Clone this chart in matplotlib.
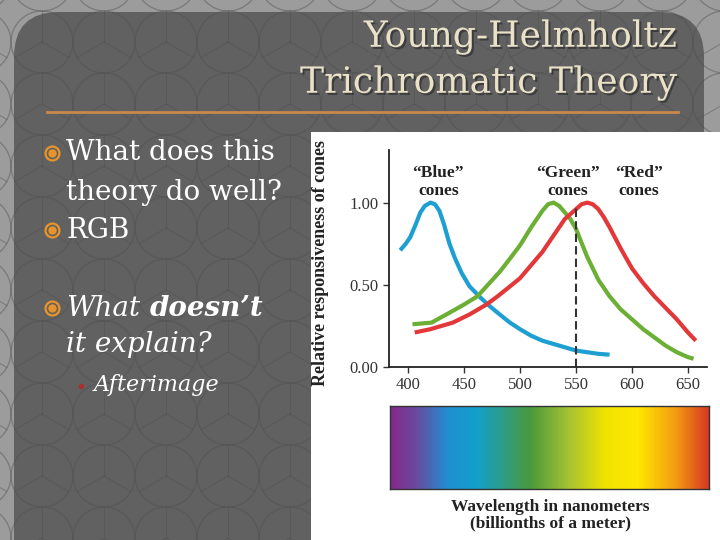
import matplotlib
matplotlib.use('Agg')
import matplotlib.pyplot as plt
import matplotlib.patheffects as pe
import numpy as np
from matplotlib.patches import FancyBboxPatch, Rectangle, Circle
from matplotlib.colors import LinearSegmentedColormap

# cone response curves (wavelength nm, relative response)
blue_nm = [393, 398, 402, 407, 411, 415, 420, 424, 428, 432, 437, 442, 448, 455, 465, 473, 480,
           491, 500, 510, 520, 530, 540, 550, 560, 570, 580]
blue_val = [0.71, 0.75, 0.79, 0.87, 0.94, 0.98, 1.00, 0.99, 0.95, 0.87, 0.75, 0.66, 0.57, 0.49, 0.42,
            0.37, 0.33, 0.27, 0.23, 0.19, 0.16, 0.14, 0.12, 0.10, 0.09, 0.08, 0.075]

green_nm = [404, 421, 437, 450, 462, 470, 482, 490, 500, 510, 520, 525, 530, 535, 540, 545, 550,
            560, 570, 580, 590, 600, 610, 620, 630, 640, 650, 655]
green_val = [0.26, 0.27, 0.33, 0.38, 0.43, 0.49, 0.58, 0.65, 0.74, 0.85, 0.95, 0.99, 1.00, 0.98,
             0.94, 0.90, 0.84, 0.67, 0.53, 0.43, 0.35, 0.29, 0.23, 0.18, 0.13, 0.09, 0.06, 0.05]

red_nm = [406, 420, 440, 455, 470, 480, 491, 500, 510, 520, 530, 540, 550, 555, 560, 565, 570,
          575, 580, 590, 600, 610, 620, 630, 640, 650, 657]
red_val = [0.21, 0.23, 0.27, 0.32, 0.38, 0.43, 0.49, 0.54, 0.62, 0.70, 0.80, 0.90, 0.96, 0.99, 1.00,
           0.99, 0.96, 0.91, 0.85, 0.72, 0.60, 0.51, 0.43, 0.36, 0.29, 0.21, 0.16]

x_ticks = [400, 450, 500, 550, 600, 650]
y_ticks = [0.0, 0.5, 1.0]
y_ticklabels = ['0.00', '0.50', '1.00']

cone_labels = ['\u201cBlue\u201d\ncones', '\u201cGreen\u201d\ncones', '\u201cRed\u201d\ncones']

spectrum_stops = [(0.0, '#86288c'), (0.08, '#6a4a9e'), (0.18, '#1f8fd2'), (0.27, '#12a0cc'),
                  (0.44, '#4a9a3c'), (0.56, '#a6c232'), (0.68, '#f2e400'), (0.78, '#ffe800'),
                  (0.90, '#f39a12'), (1.0, '#d83a22')]

fig = plt.figure(figsize=(7.2, 5.4), dpi=100)
fig.patch.set_facecolor('#9c9c9c')

# slide background, pixel coords
bg = fig.add_axes([0, 0, 1, 1])
bg.set_xlim(0, 720)
bg.set_ylim(540, 0)
bg.axis('off')
bg.add_patch(FancyBboxPatch((14, 12), 690, 600, boxstyle='round,pad=0,rounding_size=45',
                            fc='#616161', ec='none', zorder=0))
# faint circle pattern
for cy in range(-20, 580, 62):
    for cx in range(-20, 760, 62):
        bg.add_patch(Circle((cx, cy), 31, fill=False, ec='#4f4f4f', lw=0.9, alpha=0.45, zorder=0.5))
        for a in (90, 210, 330):
            r = np.deg2rad(a)
            bg.plot([cx, cx + 31 * np.cos(r)], [cy, cy - 31 * np.sin(r)], color='#4f4f4f',
                    lw=0.7, alpha=0.45, zorder=0.5)
bg.plot([47, 678], [112, 112], color='#c8894a', lw=2, zorder=1)

shadow = [pe.withSimplePatchShadow(offset=(1.5, -1.5), shadow_rgbFace='#333333', alpha=0.8)]
bg.text(677, 37, 'Young-Helmholtz', ha='right', va='center', family='DejaVu Serif',
        fontsize=26, color='#e9e2c8', zorder=3, path_effects=shadow)
bg.text(677, 83, 'Trichromatic Theory', ha='right', va='center', family='DejaVu Serif',
        fontsize=26, color='#e9e2c8', zorder=3, path_effects=shadow)

# bullets
for by in (153, 230, 308):
    bg.plot(52, by, 'o', ms=10, mfc='none', mec='#e8942a', mew=1.6, zorder=3)
    bg.plot(52, by, 'o', ms=5, color='#e8942a', zorder=3)
txt = dict(va='center', family='DejaVu Serif', fontsize=20, color='white', zorder=3)
bg.text(66, 153, 'What does this', **txt)
bg.text(66, 192, 'theory do well?', **txt)
bg.text(66, 230, 'RGB', **txt)
bg.text(66, 308, 'What', style='italic', **txt)
bg.text(150, 308, 'doesn\u2019t', style='italic', weight='bold', **txt)
bg.text(66, 345, 'it explain?', style='italic', **txt)
bg.plot(81, 386, 'o', ms=3, color='#a83030', zorder=3)
bg.text(94, 385, 'Afterimage', va='center', family='DejaVu Serif', style='italic',
        fontsize=16, color='white', zorder=3)

bg.add_patch(Rectangle((311, 132), 420, 420, fc='white', ec='none', zorder=4))

# chart
ax = fig.add_axes([389 / 720, 1 - 367 / 540, 318 / 720, 217 / 540])
ax.plot(blue_nm, blue_val, color='#1e9fd2', lw=3, solid_capstyle='butt')
ax.plot(green_nm, green_val, color='#6bb035', lw=3, solid_capstyle='butt')
ax.plot(red_nm, red_val, color='#e2383a', lw=3, solid_capstyle='butt')
ax.plot([550, 550], [0, 0.98], color='#333333', lw=1.5, ls=(0, (4, 2)))
ax.set_xlim(383, 667)
ax.set_ylim(0, 1.32)
ax.set_xticks(x_ticks)
ax.set_yticks(y_ticks)
ax.set_yticklabels(y_ticklabels)
for s in ('top', 'right'):
    ax.spines[s].set_visible(False)
for s in ('left', 'bottom'):
    ax.spines[s].set_color('#222222')
    ax.spines[s].set_linewidth(1.3)
ax.tick_params(colors='#333333', labelsize=12, length=4, width=1)
for lab in ax.get_xticklabels() + ax.get_yticklabels():
    lab.set_family('Liberation Serif')
ax.set_ylabel('Relative responsiveness of cones', family='Liberation Serif', weight='bold',
              fontsize=13, color='#222222')
ax.yaxis.set_label_coords(-0.19, 0.48)
for lab, lx in zip(cone_labels, [427, 543, 606]):
    ax.text(lx, 1.125, lab, ha='center', va='center', family='Liberation Serif', weight='bold',
            fontsize=12.5, color='#222222', linespacing=1.15)
ax.patch.set_alpha(0)

# spectrum bar
sp = fig.add_axes([390 / 720, 1 - 489 / 540, 319 / 720, 83 / 540])
cmap = LinearSegmentedColormap.from_list('spec', spectrum_stops)
sp.imshow(np.linspace(0, 1, 400)[None, :], aspect='auto', cmap=cmap)
sp.set_xticks([])
sp.set_yticks([])
for s in sp.spines.values():
    s.set_color('#333333')
    s.set_linewidth(1)

bg2 = fig.add_axes([0, 0, 1, 1])
bg2.set_xlim(0, 720)
bg2.set_ylim(540, 0)
bg2.axis('off')
bg2.text(550, 507, 'Wavelength in nanometers', ha='center', va='center', family='Liberation Serif',
         weight='bold', fontsize=12.5, color='#222222')
bg2.text(550, 523, '(billionths of a meter)', ha='center', va='center', family='Liberation Serif',
         weight='bold', fontsize=12.5, color='#222222')

fig.savefig('out.png', dpi=100)
